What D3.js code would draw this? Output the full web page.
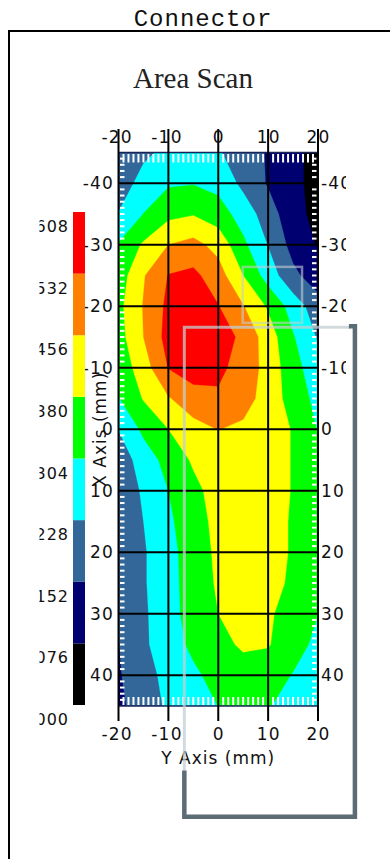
<!DOCTYPE html>
<html><head><meta charset="utf-8">
<script src="https://cdn.jsdelivr.net/npm/d3@7"></script>
<style>body{margin:0;background:#fff;} svg{display:block}</style>
</head><body>
<script>
// Y axis (horizontal, mm) sample columns
const yCols = [-20,-15,-10,-5,0,5,10,15,20];
// X axis (vertical, mm) sample rows
const xRows = [-45,-40,-35,-30,-25,-20,-15,-10,-5,0,5,10,15,20,25,30,35,40,45];
// scanned values, one row per X position
const grid = [
 [0.17,0.21,0.25,0.26,0.235,0.19,0.145,0.095,0.05],
 [0.18,0.26,0.295,0.30,0.28,0.21,0.145,0.095,0.05],
 [0.232,0.305,0.36,0.375,0.34,0.27,0.19,0.10,0.055],
 [0.31,0.39,0.456,0.48,0.43,0.32,0.225,0.125,0.07],
 [0.34,0.45,0.535,0.55,0.49,0.38,0.27,0.17,0.11],
 [0.36,0.46,0.55,0.58,0.535,0.46,0.37,0.27,0.185],
 [0.35,0.456,0.56,0.59,0.58,0.51,0.42,0.31,0.22],
 [0.33,0.42,0.535,0.57,0.55,0.50,0.43,0.33,0.26],
 [0.30,0.385,0.45,0.50,0.52,0.49,0.42,0.35,0.28],
 [0.23,0.32,0.38,0.43,0.458,0.44,0.42,0.375,0.30],
 [0.18,0.265,0.33,0.39,0.42,0.43,0.42,0.375,0.32],
 [0.165,0.24,0.304,0.36,0.41,0.43,0.42,0.375,0.32],
 [0.165,0.228,0.29,0.35,0.40,0.43,0.42,0.37,0.32],
 [0.16,0.22,0.28,0.34,0.395,0.43,0.42,0.37,0.32],
 [0.16,0.22,0.28,0.335,0.39,0.42,0.41,0.365,0.315],
 [0.155,0.215,0.28,0.33,0.38,0.41,0.39,0.35,0.305],
 [0.15,0.215,0.27,0.32,0.36,0.39,0.385,0.335,0.285],
 [0.145,0.20,0.25,0.29,0.33,0.35,0.34,0.30,0.265],
 [0.135,0.19,0.24,0.27,0.305,0.33,0.31,0.27,0.24]
];
const levels = [0,0.076,0.152,0.228,0.304,0.380,0.456,0.532,0.608];
const levelLabels = ["0.000","0.076","0.152","0.228","0.304","0.380","0.456","0.532","0.608"];
const bandColors = ["#000000","#000070","#336699","#00ffff","#00ff00","#ffff00","#ff8000","#ff0000"];
const yTicks = [-20,-10,0,10,20];
const xTicks = [-40,-30,-20,-10,0,10,20,30,40];
const xTickLabels = ["-40","-30","-20","-10","0","10","20","30","40"];
// connector outline (in axis units)
const boxBig = {y0:-6.8, y1:27.4, x0:-16.6, x1:63.0, xDark:55.5};
const boxSmall = {y0:4.9, y1:16.8, x0:-26.4, x1:-17.3};

const W=390,H=859;
const svg = d3.select("body").append("svg").attr("width",W).attr("height",H);
const sans = "'DejaVu Sans', Verdana, sans-serif";

// outer frame + titles
svg.append("path").attr("d","M9,859V31H390").attr("fill","none").attr("stroke","#000").attr("stroke-width",2);
svg.append("text").attr("x",203).attr("y",26).attr("text-anchor","middle")
  .style("font-family","'Liberation Mono', monospace").style("font-size","24px").style("letter-spacing","1px")
  .attr("fill","#111").text("Connector");
svg.append("text").attr("x",193).attr("y",88).attr("text-anchor","middle")
  .style("font-family","'Liberation Serif', serif").style("font-size","29px")
  .attr("fill","#222").text("Area Scan");

const sx = d3.scaleLinear().domain([-20,20]).range([118.5,318]);
const sy = d3.scaleLinear().domain([-45,45]).range([152.5,706]);

const defs = svg.append("defs");
defs.append("clipPath").attr("id","plotclip").append("rect")
  .attr("x",sx(-20)).attr("y",sy(-45)).attr("width",sx(20)-sx(-20)).attr("height",sy(45)-sy(-45));
defs.append("clipPath").attr("id","rclip").append("rect").attr("x",300).attr("y",140).attr("width",46).attr("height",600);
defs.append("clipPath").attr("id","cbclip").append("rect").attr("x",39.5).attr("y",190).attr("width",33).attr("height",560);

// contours
const nx = yCols.length, ny = xRows.length;
const dY = yCols[1]-yCols[0], dX = xRows[1]-xRows[0];
const contours = d3.contours().size([nx,ny]).thresholds(levels.slice(0,-1))(grid.flat());
const proj = d3.geoTransform({point(x,y){ this.stream.point(sx(yCols[0]+dY*(x-0.5)), sy(xRows[0]+dX*(y-0.5))); }});
const path = d3.geoPath(proj);
const plot = svg.append("g").attr("clip-path","url(#plotclip)");
plot.selectAll("path.c").data(contours).join("path").attr("class","c")
  .attr("d",path).attr("fill",(d,i)=>bandColors[i]).attr("stroke",(d,i)=>bandColors[i]).attr("stroke-width",0.3);

// minor ticks (white)
const minorY = d3.range(-19,20).filter(v=>v%10!==0);
const minorX = d3.range(-44,45).filter(v=>v%10!==0);
const mt = svg.append("g").attr("stroke","#fff").attr("stroke-width",2);
mt.selectAll("line.t").data(minorY).join("line").attr("class","t")
  .attr("x1",d=>sx(d)).attr("x2",d=>sx(d)).attr("y1",sy(-45)+1.5).attr("y2",sy(-45)+10);
mt.selectAll("line.b").data(minorY).join("line").attr("class","b")
  .attr("x1",d=>sx(d)).attr("x2",d=>sx(d)).attr("y1",sy(45)-9).attr("y2",sy(45)-1);
mt.selectAll("line.l").data(minorX).join("line").attr("class","l")
  .attr("x1",sx(-20)+1.5).attr("x2",sx(-20)+6).attr("y1",d=>sy(d)).attr("y2",d=>sy(d));
mt.selectAll("line.r").data(minorX).join("line").attr("class","r")
  .attr("x1",sx(20)-6).attr("x2",sx(20)-1.5).attr("y1",d=>sy(d)).attr("y2",d=>sy(d));

// top / bottom edge
svg.append("g").attr("stroke","#1a2458").attr("stroke-width",1.5).selectAll("line").data([-45,45]).join("line")
  .attr("x1",sx(-20)).attr("x2",sx(20)).attr("y1",d=>sy(d)).attr("y2",d=>sy(d));

// grid lines
const gl = svg.append("g").attr("stroke","#000").attr("stroke-width",2);
gl.selectAll("line.v").data(yTicks).join("line").attr("class","v")
  .attr("x1",d=>sx(d)).attr("x2",d=>sx(d)).attr("y1",129).attr("y2",721);
gl.selectAll("line.h").data(xTicks).join("line").attr("class","h")
  .attr("x1",sx(-20)).attr("x2",sx(20)).attr("y1",d=>sy(d)).attr("y2",d=>sy(d));

// tick labels
const lab = svg.append("g").style("font-family",sans).style("font-size","17px")
  .style("letter-spacing","1.2px").attr("fill","#111");
lab.selectAll("text.t").data(yTicks).join("text").attr("class","t")
  .attr("x",d=>sx(d)-(d<0?2:0)+0.6).attr("y",143).attr("text-anchor","middle").text(d=>d);
lab.selectAll("text.b").data(yTicks).join("text").attr("class","b")
  .attr("x",d=>sx(d)-(d<0?2:0)+0.6).attr("y",740).attr("text-anchor","middle").text(d=>d);
lab.selectAll("text.l").data(xTicks).join("text").attr("class","l")
  .attr("x",114).attr("y",d=>sy(d)+6).attr("text-anchor","end").text((d,i)=>xTickLabels[i]);
lab.append("g").attr("clip-path","url(#rclip)").selectAll("text.r").data(xTicks).join("text").attr("class","r")
  .attr("x",321).attr("y",d=>sy(d)+6).text((d,i)=>xTickLabels[i]);
lab.append("text").attr("x",(sx(-20)+sx(20))/2).attr("y",764).attr("text-anchor","middle")
  .style("letter-spacing","1px").text("Y Axis (mm)");
lab.append("text").attr("transform",`translate(106,${(sy(-45)+sy(45))/2}) rotate(-90)`).attr("text-anchor","middle")
  .style("letter-spacing","1px").text("X Axis (mm)");

// colour bar
const sc = d3.scaleLinear().domain([0,0.608]).range([705,212]);
const cb = svg.append("g");
cb.selectAll("rect").data(bandColors).join("rect")
  .attr("x",73).attr("width",12)
  .attr("y",(d,i)=>sc(levels[i+1])).attr("height",(d,i)=>sc(levels[i])-sc(levels[i+1]))
  .attr("fill",d=>d);
cb.append("g").attr("clip-path","url(#cbclip)").selectAll("text").data(levels).join("text")
  .attr("x",69).attr("y",d=>sc(d)+20).attr("text-anchor","end")
  .style("font-family",sans).style("font-size","16px").style("letter-spacing","1px").attr("fill","#111")
  .text((d,i)=>levelLabels[i]);

// connector outline overlay
const light = svg.append("g").attr("fill","none").attr("stroke","#c4ced2").attr("stroke-opacity",0.75).attr("stroke-width",3);
light.append("rect").attr("x",sx(boxSmall.y0)).attr("y",sy(boxSmall.x0))
  .attr("width",sx(boxSmall.y1)-sx(boxSmall.y0)).attr("height",sy(boxSmall.x1)-sy(boxSmall.x0))
  .attr("stroke-width",2.5).attr("stroke-opacity",0.6);
light.append("path").attr("d",`M${sx(boxBig.y1)-5},${sy(boxBig.x0)}H${sx(boxBig.y0)}V${sy(boxBig.xDark)}`);
svg.append("path").attr("fill","none").attr("stroke","#5c6c74").attr("stroke-width",4.5)
  .attr("d",`M${sx(boxBig.y1)-6},${sy(boxBig.x0)-1}H${sx(boxBig.y1)}V${sy(boxBig.x1)}H${sx(boxBig.y0)}V${sy(boxBig.xDark)}`);
</script>
</body></html>
